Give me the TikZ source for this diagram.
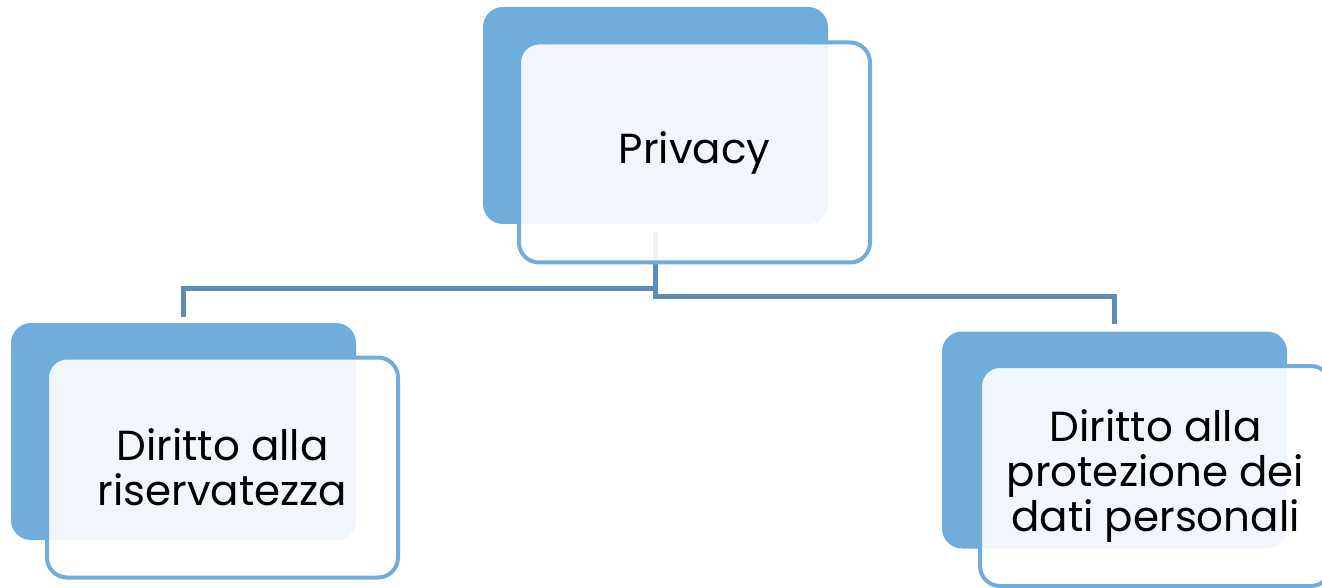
\documentclass[tikz,border=0pt]{standalone}
\usepackage{fontspec}
\setmainfont{Poppins}
\usetikzlibrary{positioning}
\definecolor{boxblue}{RGB}{112,173,218}
\definecolor{linkblue}{RGB}{92,142,181}
\tikzset{
  backbox/.style={fill=boxblue, rounded corners=10pt, inner sep=0pt,
    minimum width=172.5pt, minimum height=108.5pt},
  frontbox/.style={draw=boxblue, line width=2pt, fill=white, fill opacity=0.9,
    text opacity=1, rounded corners=10pt, inner sep=0pt, align=center,
    minimum width=175.5pt, minimum height=110pt,
    font=\fontsize{21}{22.5}\selectfont},
  link/.style={draw=linkblue, line width=2.5pt}
}

\begin{document}
\begin{tikzpicture}[x=0.5pt,y=-0.5pt]
    \useasboundingbox (0,0) rectangle (1322,588);
    % back cards
    \node[backbox] (pback) at (655.5,115.5) {};
    \node[backbox] (lback) at (183.5,431.5) {};
    \node[backbox] (rback) at (1114.5,440) {};
    % tree lines
    \draw[link] ([yshift=-4pt]pback.south) -- ++(0,56) -| ([yshift=3pt]lback.north);
    \draw[link] ([yshift=-4pt]pback.south) -- ++(0,64) -| ([yshift=3.5pt]rback.north);
    % front cards
    \node[frontbox] (privacy) at ([shift={(19.5pt,-18.5pt)}]pback.center) {Privacy};
    \node[frontbox] (riserv)  at ([shift={(19.5pt,-18pt)}]lback.center) {Diritto alla\\riservatezza};
    \node[frontbox] (dati)    at ([shift={(20.5pt,-18pt)}]rback.center) {Diritto alla\\protezione dei\\dati personali};
\end{tikzpicture}
\end{document}
